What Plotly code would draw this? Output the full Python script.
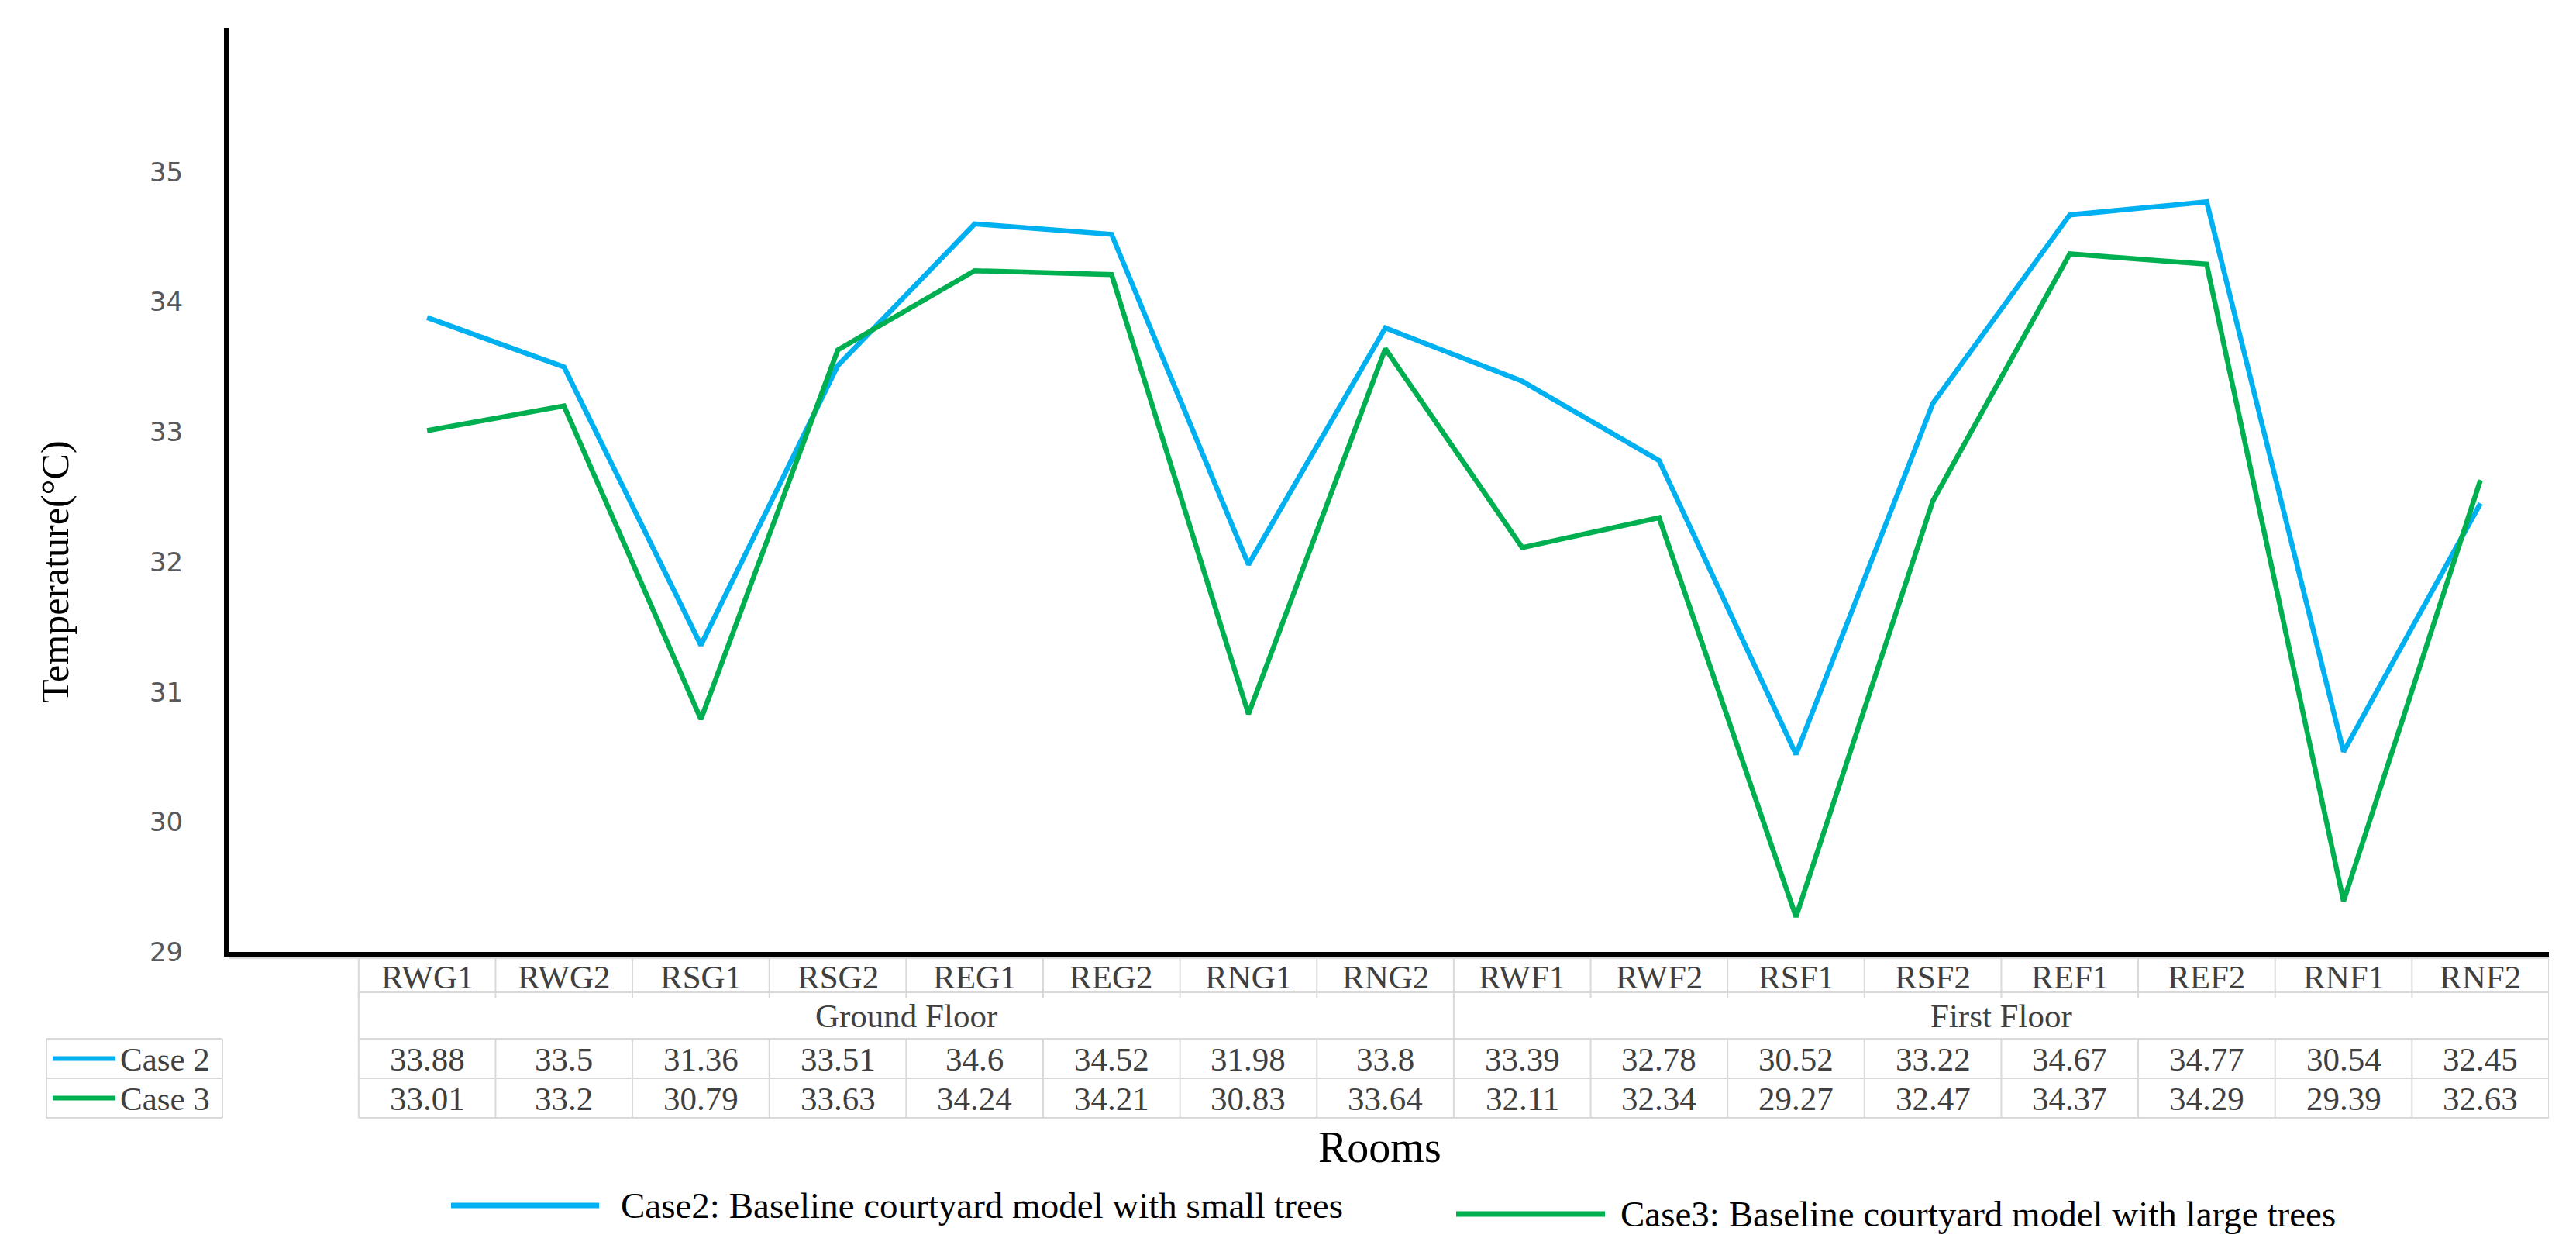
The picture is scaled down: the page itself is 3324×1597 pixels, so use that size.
import plotly.graph_objects as go

# ---------------- data ----------------
rooms = ["RWG1", "RWG2", "RSG1", "RSG2", "REG1", "REG2", "RNG1", "RNG2",
         "RWF1", "RWF2", "RSF1", "RSF2", "REF1", "REF2", "RNF1", "RNF2"]
floors = ["Ground Floor", "First Floor"]
case2 = [33.88, 33.5, 31.36, 33.51, 34.6, 34.52, 31.98, 33.8,
         33.39, 32.78, 30.52, 33.22, 34.67, 34.77, 30.54, 32.45]
case3 = [33.01, 33.2, 30.79, 33.63, 34.24, 34.21, 30.83, 33.64,
         32.11, 32.34, 29.27, 32.47, 34.37, 34.29, 29.39, 32.63]
row_labels = ["Case 2", "Case 3"]
legend_labels = ["Case2: Baseline courtyard model with small trees",
                 "Case3: Baseline courtyard model with large trees"]
y_ticks = [29, 30, 31, 32, 33, 34, 35]

# ---------------- styling ----------------
W, H = 3324, 1597
L, R, T, B = 287, 3281, 28, 1220          # plot area in pixels
BLUE, GREEN = "#00B0F0", "#00B050"
GRID = "#d9d9d9"
TXT = "#404040"
SERIF = "Liberation Serif, Times New Roman, serif"

def py(ypx):
    return (B - ypx) / (B - T)

def px(xpx):
    return (xpx - L) / (R - L)

n = len(rooms)
xs = list(range(n))

fig = go.Figure()
fig.add_trace(go.Scatter(x=xs, y=case2, mode="lines", line=dict(color=BLUE, width=6.5),
                         name=row_labels[0], showlegend=False, hoverinfo="skip"))
fig.add_trace(go.Scatter(x=xs, y=case3, mode="lines", line=dict(color=GREEN, width=6.5),
                         name=row_labels[1], showlegend=False, hoverinfo="skip"))

shapes = []
ann = []

def hline(x0, x1, y, xref="x", color=GRID, width=2):
    shapes.append(dict(type="line", xref=xref, yref="paper", x0=x0, x1=x1,
                       y0=py(y), y1=py(y), line=dict(color=color, width=width)))

def vline(x, y0, y1, xref="x", color=GRID, width=2):
    shapes.append(dict(type="line", xref=xref, yref="paper", x0=x, x1=x,
                       y0=py(y0), y1=py(y1), line=dict(color=color, width=width)))

# table rows (pixel y)
r_top, r_head, r_floor, r_c2, r_c3 = 1228, 1272, 1332, 1383, 1434
xl, xr = -0.5, n - 0.5

hline(0, 1, r_top, xref="paper")
for yy in (r_head, r_floor, r_c2, r_c3):
    hline(xl, xr, yy)
for i in range(n + 1):
    b = i - 0.5
    vline(b, r_top, r_head + 8)
    vline(b, r_floor, r_c3)
for b in (xl, 7.5, xr):
    vline(b, r_head, r_floor)

# table texts
tfont = dict(family=SERIF, size=43, color=TXT)
for i, name in enumerate(rooms):
    ann.append(dict(x=i, y=py((r_top + r_head) / 2 + 2), xref="x", yref="paper", text=name,
                    showarrow=False, font=tfont, xanchor="center", yanchor="middle"))
    ann.append(dict(x=i, y=py((r_floor + r_c2) / 2 + 1), xref="x", yref="paper", text=str(case2[i]),
                    showarrow=False, font=tfont, xanchor="center", yanchor="middle"))
    ann.append(dict(x=i, y=py((r_c2 + r_c3) / 2 + 1), xref="x", yref="paper", text=str(case3[i]),
                    showarrow=False, font=tfont, xanchor="center", yanchor="middle"))
ann.append(dict(x=3.5, y=py((r_head + r_floor) / 2), xref="x", yref="paper", text=floors[0],
                showarrow=False, font=tfont, xanchor="center", yanchor="middle"))
ann.append(dict(x=11.5, y=py((r_head + r_floor) / 2), xref="x", yref="paper", text=floors[1],
                showarrow=False, font=tfont, xanchor="center", yanchor="middle"))

# left legend box of the table
bx0, bx1 = 52, 279
for yy in (r_floor, r_c2, r_c3):
    hline(px(bx0), px(bx1), yy, xref="paper")
for xx in (bx0, bx1):
    vline(px(xx), r_floor, r_c3, xref="paper")
for k, (yy, col) in enumerate([((r_floor + r_c2) / 2, BLUE), ((r_c2 + r_c3) / 2, GREEN)]):
    shapes.append(dict(type="line", xref="paper", yref="paper", x0=px(60), x1=px(141),
                       y0=py(yy), y1=py(yy), line=dict(color=col, width=6)))
    ann.append(dict(x=px(145), y=py(yy + 1), xref="paper", yref="paper", text=row_labels[k],
                    showarrow=False, font=tfont, xanchor="left", yanchor="middle"))

# y axis title (placed as in the reference, below the axis centre)
ann.append(dict(x=px(63), y=py(730), xref="paper", yref="paper", text="Temperature(°C)",
                textangle=-90, showarrow=False,
                font=dict(family=SERIF, size=50, color="#000000"),
                xanchor="center", yanchor="middle"))

# x axis title
ann.append(dict(x=px(1772), y=py(1472), xref="paper", yref="paper", text="Rooms",
                showarrow=False, font=dict(family=SERIF, size=56, color="#000000"),
                xanchor="center", yanchor="middle"))

# bottom legend
lfont = dict(family=SERIF, size=47, color="#000000")
for (x0, x1, xt, yy, col, lab) in [(574, 765, 791, 1547, BLUE, legend_labels[0]),
                                   (1871, 2063, 2081, 1558, GREEN, legend_labels[1])]:
    shapes.append(dict(type="line", xref="paper", yref="paper", x0=px(x0), x1=px(x1),
                       y0=py(yy), y1=py(yy), line=dict(color=col, width=7)))
    ann.append(dict(x=px(xt), y=py(yy), xref="paper", yref="paper", text=lab,
                    showarrow=False, font=lfont, xanchor="left", yanchor="middle"))

fig.update_layout(
    width=W, height=H,
    margin=dict(l=L, r=W - R, t=T, b=H - B, pad=0),
    paper_bgcolor="white", plot_bgcolor="white",
    shapes=shapes, annotations=ann,
    xaxis=dict(range=[-1.45, n - 0.5], showgrid=False, zeroline=False,
               showticklabels=False, ticks="", showline=True, linecolor="#000000",
               linewidth=6),
    yaxis=dict(range=[29, 29 + (B - T) / 167.7], showgrid=False, zeroline=False,
               tickvals=y_ticks, ticktext=[str(v) for v in y_ticks], ticks="",
               tickfont=dict(family="DejaVu Sans", size=34, color="#595959"),
               ticklabelstandoff=46,
               showline=True, linecolor="#000000", linewidth=6),
)

fig.write_html("out.html")
